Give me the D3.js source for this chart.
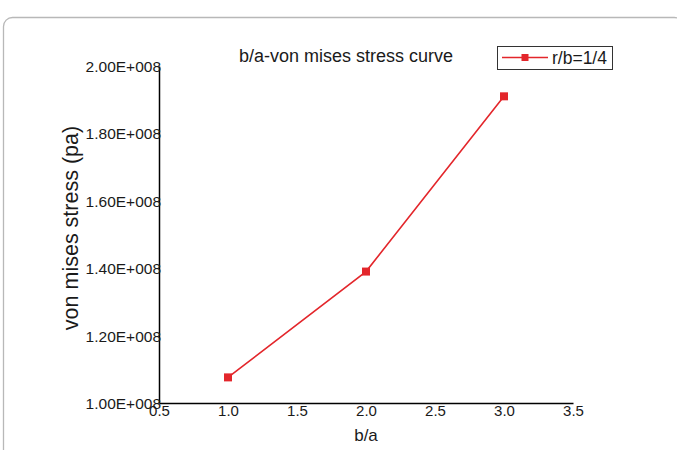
<!DOCTYPE html>
<html><head><meta charset="utf-8">
<script src="https://cdn.jsdelivr.net/npm/d3@7"></script>
<style>body{margin:0;background:#fff;} svg{display:block;} text{font-family:Arial,"Liberation Sans",sans-serif;}</style>
</head><body>
<svg id="c" width="677" height="450"></svg>
<script>
const xValues = [1.0, 2.0, 3.0];
const stressValues = [1.076e8, 1.39e8, 1.91e8];
const xTicks = [0.5, 1.0, 1.5, 2.0, 2.5, 3.0, 3.5];
const yTicks = [1.0e8, 1.2e8, 1.4e8, 1.6e8, 1.8e8, 2.0e8];
const yTickLabels = ["1.00E+008","1.20E+008","1.40E+008","1.60E+008","1.80E+008","2.00E+008"];
const seriesName = "r/b=1/4";
const title = "b/a-von mises stress curve";

const svg = d3.select("#c");
const red = "#e3262b";
const ink = "#1a1a1a";
const FF = 'Arial, "Liberation Sans", sans-serif';
svg.append("rect").attr("x",3.5).attr("y",17.5).attr("width",680).attr("height",520).attr("rx",9)
  .attr("fill","none").attr("stroke","#b8b8b8").attr("stroke-width",1.3);

const x = d3.scaleLinear().domain([0.5,3.5]).range([159,573]);
const y = d3.scaleLinear().domain([1e8,2e8]).range([403,66]);

const xAxis = svg.append("g").attr("transform","translate(0,403)")
  .call(d3.axisBottom(x).tickValues(xTicks).tickSize(0).tickFormat(d3.format(".1f")))
  .attr("font-family",FF).attr("font-size",15);
xAxis.select(".domain").attr("stroke","#000").attr("stroke-width",1.5);
xAxis.selectAll("text").style("font-size","15px").attr("fill",ink).attr("dy","0.75em").attr("y",2);

const yAxis = svg.append("g").attr("transform","translate(159,0)")
  .call(d3.axisLeft(y).tickValues(yTicks).tickSize(0).tickFormat((d,i)=>yTickLabels[i]))
  .attr("font-family",FF).attr("font-size",15.5);
yAxis.select(".domain").attr("stroke","#000").attr("stroke-width",1.5);
yAxis.selectAll("text").style("font-size","15.5px").attr("fill",ink).attr("x",2).attr("dy","0.35em");

svg.append("text").attr("x",346).attr("y",62).attr("text-anchor","middle").attr("font-size",18).attr("fill",ink).text(title);
svg.append("text").attr("x",366).attr("y",441).attr("text-anchor","middle").attr("font-size",17).attr("fill",ink).text("b/a");
svg.append("text").attr("transform","translate(78,228) rotate(-90)").attr("text-anchor","middle").attr("font-size",21.5).attr("fill",ink).text("von mises stress (pa)");

const data = xValues.map((v,i)=>({x:v,y:stressValues[i]}));
svg.append("path").datum(data).attr("fill","none").attr("stroke",red).attr("stroke-width",1.6)
  .attr("d",d3.line().x(d=>x(d.x)).y(d=>y(d.y)));
svg.selectAll("rect.m").data(data).join("rect").attr("class","m")
  .attr("x",d=>x(d.x)-4).attr("y",d=>y(d.y)-4).attr("width",8).attr("height",8).attr("fill",red);

// legend
const lg = svg.append("g");
lg.append("rect").attr("x",497.5).attr("y",46.5).attr("width",115).attr("height",23).attr("fill","#fff").attr("stroke","#333").attr("stroke-width",1);
lg.append("line").attr("x1",502).attr("x2",548).attr("y1",57.5).attr("y2",57.5).attr("stroke",red).attr("stroke-width",1.6);
lg.append("rect").attr("x",521.5).attr("y",54).attr("width",7).attr("height",7).attr("fill",red);
lg.append("text").attr("x",552).attr("y",63.5).attr("font-size",17.5).attr("fill",ink).text(seriesName);
</script>
</body></html>
